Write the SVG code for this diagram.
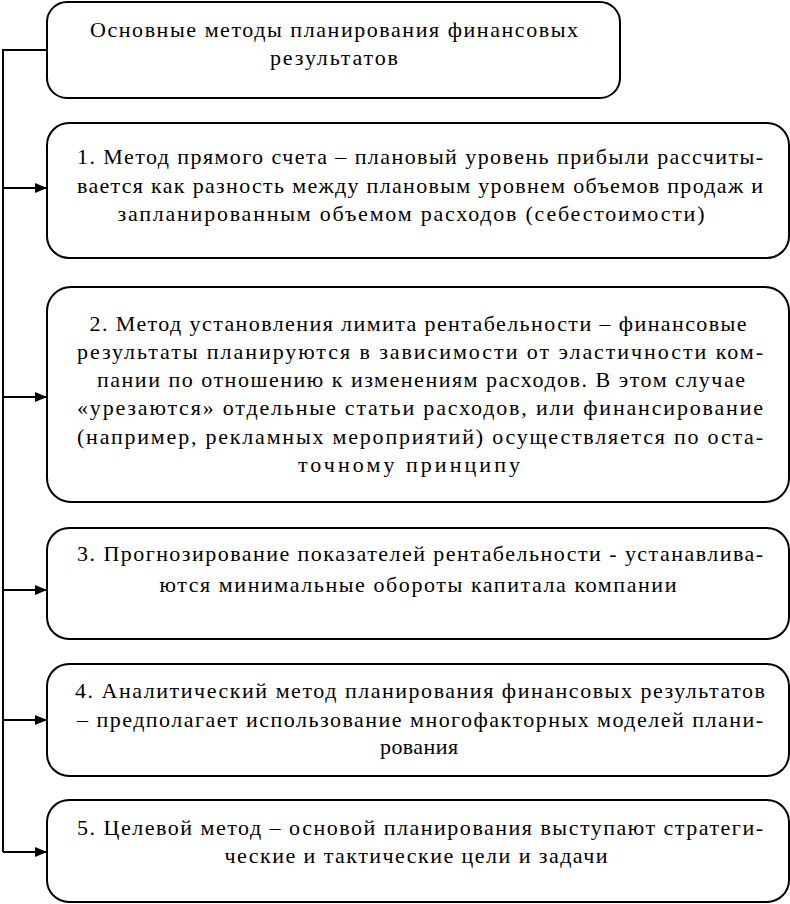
<svg xmlns="http://www.w3.org/2000/svg" width="790" height="904" viewBox="0 0 790 904">
<style>
.box{fill:#fff;stroke:#000;stroke-width:2}
.t{font-family:'Liberation Serif','Times New Roman','DejaVu Serif',serif;font-size:22px;fill:#000;text-anchor:middle}
.c{fill:none;stroke:#000;stroke-width:2}
</style>
<defs>
<marker id="ah" viewBox="0 0 12 10" refX="12" refY="5" markerWidth="12" markerHeight="10" markerUnits="userSpaceOnUse" orient="auto">
<path d="M0,0 L12,5 L0,10 Z" fill="#000"/>
</marker>
</defs>
<rect width="790" height="904" fill="#fff"/>
<g id="connectors">
<path class="c" d="M47,50 H3 V852"/>
<path class="c" d="M3,188 H47" marker-end="url(#ah)"/>
<path class="c" d="M3,397 H47" marker-end="url(#ah)"/>
<path class="c" d="M3,590 H47" marker-end="url(#ah)"/>
<path class="c" d="M3,720 H47" marker-end="url(#ah)"/>
<path class="c" d="M3,852 H47" marker-end="url(#ah)"/>
</g>
<g id="title">
<rect class="box" x="47" y="2" width="573" height="96" rx="20"/>
<text class="t" x="334" y="37" textLength="488" lengthAdjust="spacing">Основные методы планирования финансовых</text>
<text class="t" x="334" y="65" textLength="128" lengthAdjust="spacing">результатов</text>
</g>
<g id="m1">
<rect class="box" x="47" y="123" width="742" height="135" rx="22"/>
<text class="t" x="420" y="164" textLength="686" lengthAdjust="spacing">1. Метод прямого счета – плановый уровень прибыли рассчиты-</text>
<text class="t" x="420" y="193" textLength="686" lengthAdjust="spacing">вается как разность между плановым уровнем объемов продаж и</text>
<text class="t" x="411" y="221" textLength="587" lengthAdjust="spacing">запланированным объемом расходов (себестоимости)</text>
</g>
<g id="m2">
<rect class="box" x="47" y="287" width="742" height="215" rx="24"/>
<text class="t" x="418" y="331" textLength="657" lengthAdjust="spacing">2. Метод установления лимита рентабельности – финансовые</text>
<text class="t" x="420" y="359" textLength="686" lengthAdjust="spacing">результаты планируются в зависимости от эластичности ком-</text>
<text class="t" x="421" y="387" textLength="648" lengthAdjust="spacing">пании по отношению к изменениям расходов. В этом случае</text>
<text class="t" x="420" y="415" textLength="686" lengthAdjust="spacing">«урезаются» отдельные статьи расходов, или финансирование</text>
<text class="t" x="420" y="444" textLength="686" lengthAdjust="spacing">(например, рекламных мероприятий) осуществляется по оста-</text>
<text class="t" x="409" y="472" textLength="222" lengthAdjust="spacing">точному принципу</text>
</g>
<g id="m3">
<rect class="box" x="47" y="528" width="742" height="111" rx="22"/>
<text class="t" x="420" y="561" textLength="686" lengthAdjust="spacing">3. Прогнозирование показателей рентабельности - устанавлива-</text>
<text class="t" x="418" y="592" textLength="517" lengthAdjust="spacing">ются минимальные обороты капитала компании</text>
</g>
<g id="m4">
<rect class="box" x="47" y="664" width="742" height="112" rx="22"/>
<text class="t" x="420" y="698" textLength="690" lengthAdjust="spacing">4. Аналитический метод планирования финансовых результатов</text>
<text class="t" x="420" y="727" textLength="686" lengthAdjust="spacing">– предполагает использование многофакторных моделей плани-</text>
<text class="t" x="419" y="754" textLength="78" lengthAdjust="spacing">рования</text>
</g>
<g id="m5">
<rect class="box" x="47" y="800" width="742" height="102" rx="22"/>
<text class="t" x="420" y="835" textLength="686" lengthAdjust="spacing">5. Целевой метод – основой планирования выступают стратеги-</text>
<text class="t" x="416" y="863" textLength="383" lengthAdjust="spacing">ческие и тактические цели и задачи</text>
</g>
</svg>
